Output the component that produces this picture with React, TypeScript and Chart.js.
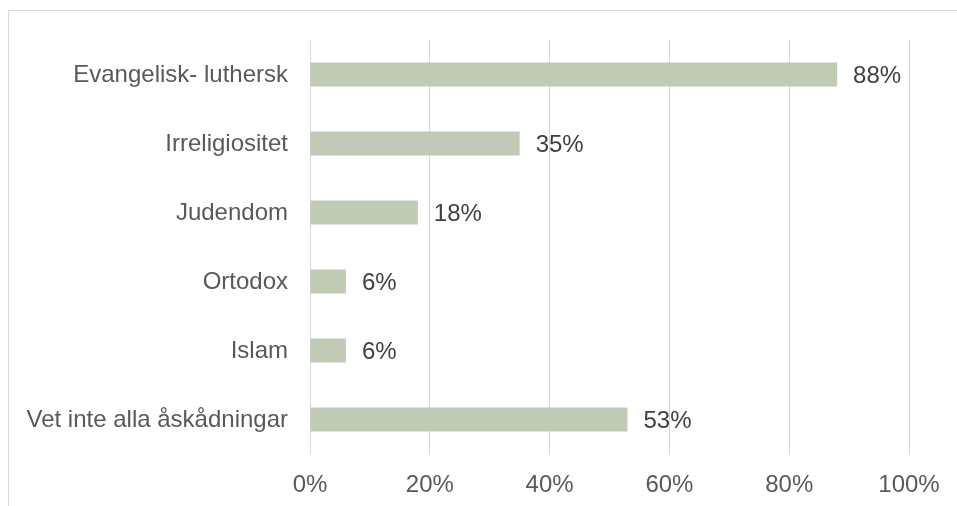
import React, { useEffect, useRef } from "react";
import { Chart, registerables } from "chart.js";

Chart.register(...registerables);

const categories = [
  "Evangelisk- luthersk",
  "Irreligiositet",
  "Judendom",
  "Ortodox",
  "Islam",
  "Vet inte alla åskådningar",
];
const values = [88, 35, 18, 6, 6, 53];
const xTicks = [0, 20, 40, 60, 80, 100];

const FONT = "Liberation Sans, Arial, sans-serif";
const TEXT = "#595959";
const SIZE = 24;

const labelPlugin = {
  id: "valueLabels",
  afterDatasetsDraw(chart: any) {
    const ctx = chart.ctx;
    const meta = chart.getDatasetMeta(0);
    ctx.save();
    ctx.font = `${SIZE}px ${FONT}`;
    ctx.fillStyle = "#404040";
    ctx.textAlign = "left";
    ctx.textBaseline = "middle";
    meta.data.forEach((bar: any, i: number) => {
      ctx.fillText(`${values[i]}%`, bar.x + 16, bar.y + 2);
    });
    ctx.restore();
  },
};

export default function App() {
  const ref = useRef<HTMLCanvasElement | null>(null);
  useEffect(() => {
    document.body.style.overflow = "hidden";
    const chart = new Chart(ref.current as HTMLCanvasElement, {
      type: "bar",
      data: {
        labels: categories,
        datasets: [
          {
            data: values,
            backgroundColor: "#c0cab5",
            barPercentage: 0.35,
            categoryPercentage: 1,
          },
        ],
      },
      options: {
        indexAxis: "y",
        animation: false,
        responsive: false,
        maintainAspectRatio: false,
        layout: { padding: { top: 40, right: 48, left: 0, bottom: 0 } },
        plugins: { legend: { display: false }, tooltip: { enabled: false } },
        scales: {
          x: {
            min: 0,
            max: 100,
            afterBuildTicks(scale: any) {
              scale.ticks = xTicks.map((v) => ({ value: v }));
            },
            afterFit(scale: any) {
              scale.height = 52;
            },
            grid: { color: "#d9d9d9", lineWidth: 1, drawTicks: false },
            border: { display: false },
            ticks: {
              padding: 17,
              color: TEXT,
              font: { family: FONT, size: SIZE },
              callback: (v: any) => `${v}%`,
            },
          },
          y: {
            afterFit(scale: any) {
              scale.width = 310;
            },
            grid: { display: false, drawTicks: false },
            border: { display: false },
            ticks: {
              padding: 22,
              labelOffset: 1,
              color: TEXT,
              font: { family: FONT, size: SIZE },
            },
          },
        },
      },
      plugins: [labelPlugin],
    });
    return () => chart.destroy();
  }, []);
  return (
    <div>
      <div
        style={{
          position: "fixed",
          left: 8,
          top: 10,
          width: 1000,
          height: 600,
          borderTop: "1px solid #d9d9d9",
          borderLeft: "1px solid #d9d9d9",
          boxSizing: "border-box",
        }}
      />
      <canvas
        ref={ref}
        width={957}
        height={506}
        style={{ position: "fixed", left: 0, top: 0, width: 957, height: 506 }}
      />
    </div>
  );
}
